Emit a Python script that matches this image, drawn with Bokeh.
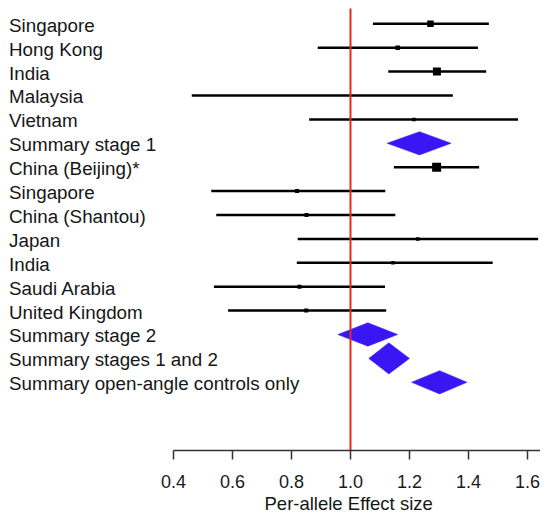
from bokeh.plotting import figure
from bokeh.models import Range1d, FixedTicker, ColumnDataSource, NumeralTickFormatter, Title
from bokeh.core.properties import value
from bokeh.embed import file_html
from bokeh.resources import INLINE

# ---- data ----
labels = ["Singapore", "Hong Kong", "India", "Malaysia", "Vietnam",
          "Summary stage 1", "China (Beijing)*", "Singapore", "China (Shantou)",
          "Japan", "India", "Saudi Arabia", "United Kingdom", "Summary stage 2",
          "Summary stages 1 and 2", "Summary open-angle controls only"]
kind = ["study"] * 5 + ["summary"] + ["study"] * 7 + ["summary"] * 3
est = [1.271, 1.160, 1.293, 0.905, 1.215, 1.234, 1.292, 0.819, 0.851,
       1.228, 1.144, 0.827, 0.850, 1.059, 1.130, 1.302]
lo = [1.076, 0.889, 1.128, 0.462, 0.860, 1.124, 1.147, 0.528, 0.545,
      0.821, 0.818, 0.537, 0.585, 0.957, 1.062, 1.207]
hi = [1.469, 1.432, 1.460, 1.347, 1.568, 1.341, 1.436, 1.118, 1.152,
      1.636, 1.482, 1.117, 1.121, 1.160, 1.200, 1.395]
# box size (weight) for studies, diamond height (rows) for summaries
box_px = [6.5, 4.5, 8, 0, 3.5, None, 9, 4, 4, 3.5, 3.5, 4, 4, None, None, None]
diamond_h = [None] * 5 + [0.975] + [None] * 7 + [0.975, 1.30, 0.975]

ticks = [0.4, 0.6, 0.8, 1.0, 1.2, 1.4, 1.6]
x_title = "Per-allele Effect size"
ref_value = 1.0

# ---- style / layout ----
FONT = "Liberation Sans"
BLUE = "#3a16f5"
RED = "#e8281e"
X0, X1 = -0.1864, 1.6441
Y_BOTTOM, Y_TOP = 17.854, -0.975
REF_TOP = -0.64

p = figure(width=540, height=516, x_range=Range1d(X0, X1),
           y_range=Range1d(Y_BOTTOM, Y_TOP), output_backend="svg",
           toolbar_location=None, y_axis_location=None, min_border=0,
           min_border_bottom=66, background_fill_color="white",
           border_fill_color="white", outline_line_color=None)
p.grid.visible = False

rows = list(range(len(labels)))
st = [i for i in rows if kind[i] == "study"]
sm = [i for i in rows if kind[i] == "summary"]

src = ColumnDataSource(dict(y=st, lo=[lo[i] for i in st], hi=[hi[i] for i in st],
                            est=[est[i] for i in st], sz=[box_px[i] for i in st]))
p.segment(x0="lo", y0="y", x1="hi", y1="y", source=src, line_color="black",
          line_width=2.5)
p.scatter(x="est", y="y", size="sz", marker="square", source=src,
          fill_color="black", line_color=None)

xs = [[lo[i], est[i], hi[i], est[i]] for i in sm]
ys = [[i, i - diamond_h[i] / 2, i, i + diamond_h[i] / 2] for i in sm]
p.patches(xs=xs, ys=ys, fill_color=BLUE, line_color=BLUE, line_width=0.5)

p.text(x=[X0 + 0.029] * len(labels), y=rows, text=labels,
       text_font=value(FONT), text_font_size="18.8px", text_baseline="middle",
       text_align="left", text_color="#161616", y_offset=1.5)

# reference line (drawn on top)
p.segment(x0=[ref_value], y0=[Y_BOTTOM], x1=[ref_value], y1=[REF_TOP],
          line_color=RED, line_width=2)

ax = p.xaxis[0]
ax.ticker = FixedTicker(ticks=ticks)
ax.formatter = NumeralTickFormatter(format="0.0")
ax.bounds = (ticks[0], X1)
ax.major_tick_out = 9
ax.major_tick_in = 0
ax.minor_tick_out = 0
ax.minor_tick_in = 0
ax.axis_line_width = 1.5
ax.axis_line_color = "#333333"
ax.major_tick_line_width = 1.5
ax.major_tick_line_color = "#333333"
ax.major_label_text_font = FONT
ax.major_label_text_font_size = "18px"
ax.major_label_text_color = "#1a1a1a"
ax.major_label_standoff = 15

# axis title centred on the reference value, as in the original
p.add_layout(Title(text=x_title, align="left", offset=264, standoff=0,
                   text_font=FONT, text_font_size="18.5px",
                   text_font_style="normal", text_color="#161616"), "below")

open("out.html", "w").write(file_html(p, INLINE))
